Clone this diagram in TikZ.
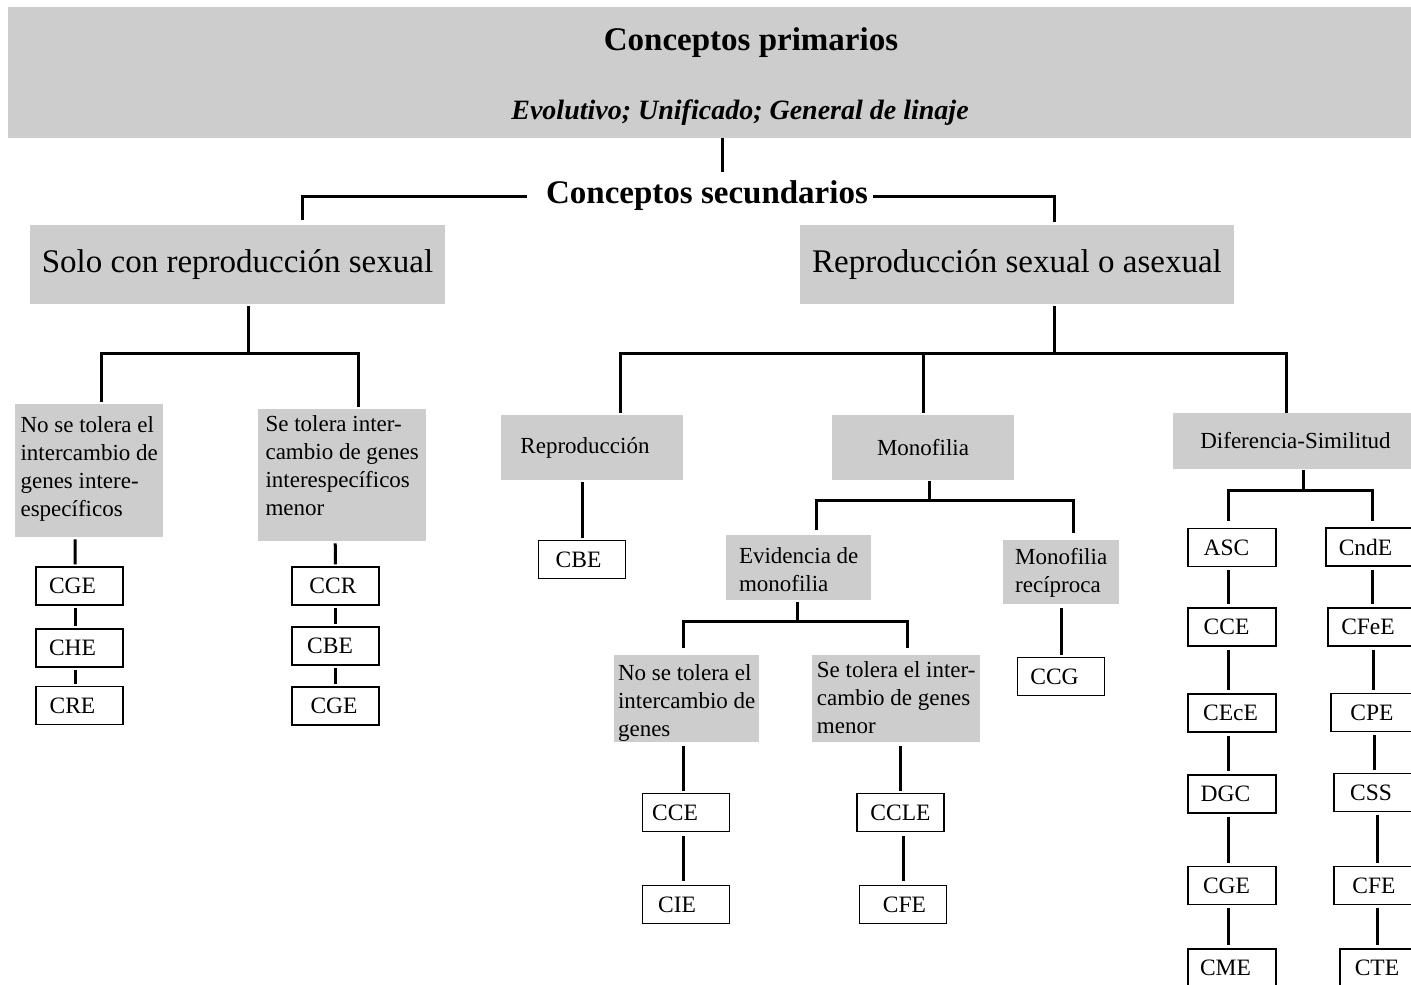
\documentclass[tikz,border=0pt]{standalone}
\usepackage{fontspec}
\setmainfont{Liberation Serif}
\definecolor{boxgray}{RGB}{205,205,205}
\newcommand{\szsmall}{\fontsize{23}{28}\selectfont}
\newcommand{\szlab}{\fontsize{23.5}{28}\selectfont}
\newcommand{\szbig}{\fontsize{33}{38}\selectfont}
\newcommand{\szsub}{\fontsize{28}{33}\selectfont}
\newcommand{\rbx}[2]{\raisebox{#1}[\height][\depth]{\begin{tabular}{@{}l@{}}#2\end{tabular}}}
\begin{document}
\begin{tikzpicture}[x=1pt,y=-1pt,
  gbox/.style={fill=boxgray, inner sep=0pt, font=\szsmall},
  gml/.style={gbox, anchor=north west},
  wbox/.style={draw=black, line width=1.2pt, fill=white, minimum width=87pt, minimum height=38pt, inner sep=0pt, font=\szlab},
  tx/.style={execute at begin node={\hspace*{#1}}},
  conn/.style={line width=3pt},
  wl/.style={line width=3pt, shorten <=2pt, shorten >=2pt},
]
\useasboundingbox[fill=white] (0,0) rectangle (1411,985);

% primary
\node[gbox, minimum width=1404pt, minimum height=131pt] (prim) at (710,72.5) {};
\node[font=\szbig\bfseries] (primt) at (751,43) {Conceptos primarios};
\node[font=\szsub\bfseries\itshape] (prims) at (740,113) {Evolutivo; Unificado; General de linaje};
\node[font=\szbig\bfseries, inner xsep=5pt, inner ysep=1pt] (sec) at (707,196) {Conceptos secundarios};
\coordinate (c0) at (722,172);
\draw[conn] (prim.south -| c0) -- (c0);

% level 1
\node[gbox, minimum width=415pt, minimum height=79pt, font=\szbig] (solo) at (237.5,264.5) {Solo con reproducción sexual};
\node[gbox, minimum width=434pt, minimum height=79pt, font=\szbig] (repro) at (1017,264.5) {Reproducción sexual o asexual};
\draw[conn] ([xshift=-14pt]sec.west) -| ([xshift=64.5pt,yshift=5pt]solo.north);
\draw[conn] (sec.east) -| ([xshift=37pt,yshift=3pt]repro.north);

% left branch
\node[gml, minimum width=148pt, minimum height=133pt] (nst) at (15,404) {\rbx{2pt}{No se tolera el\\intercambio de\\genes intere-\\específicos}};
\node[gml, minimum width=168pt, minimum height=132pt] (st) at (258,409) {\rbx{7pt}{Se tolera inter-\\cambio de genes\\interespecíficos\\menor}};
\coordinate (jl) at (248,353);
\draw[conn] ([yshift=-2pt]solo.south -| jl) -- (jl);
\draw[conn] ([xshift=12pt,yshift=2pt]nst.north) |- (jl) -| ([xshift=16pt,yshift=2pt]st.north);

\node[wbox, tx=-14pt] (cge1) at (79.5,586) {CGE};
\node[wbox, tx=-14pt] (che) at (79.5,648) {CHE};
\node[wbox, tx=-14pt] (cre) at (79.5,705.5) {CRE};
\node[wbox, tx=-5pt] (ccr) at (335.5,586) {CCR};
\node[wbox, tx=-11pt] (cbe1) at (335.5,646) {CBE};
\node[wbox, tx=-3pt] (cge2) at (335.5,706) {CGE};
\draw[wl] ([xshift=-14pt]nst.south) -- ([xshift=-4.5pt]cge1.north);
\draw[wl] ([xshift=-4.5pt]cge1.south) -- ([xshift=-4.5pt]che.north);
\draw[wl] ([xshift=-4.5pt]che.south) -- ([xshift=-4.5pt]cre.north);
\draw[wl] ([xshift=-7pt]st.south) -- (ccr.north);
\draw[wl] (ccr.south) -- (cbe1.north);
\draw[wl] (cbe1.south) -- (cge2.north);

% right branch
\node[gbox, minimum width=182pt, minimum height=65pt, tx=-14pt] (reprod) at (592,447.5) {Reproducción};
\node[gbox, minimum width=182pt, minimum height=65pt] (mono) at (923,447.5) {Monofilia};
\node[gbox, minimum width=245pt, minimum height=56pt] (difsim) at (1295.5,441) {Diferencia-Similitud};
\coordinate (jr) at (1054,353);
\draw[conn] ([yshift=-2pt]repro.south -| jr) -- (jr);
\draw[conn] ([xshift=28pt,yshift=2pt]reprod.north) |- (jr) -| ([xshift=-9.5pt]difsim.north);
\draw[conn] ([yshift=2pt]mono.north) -- (mono.north |- jr);

% reproduccion
\node[wbox, tx=-7pt] (cbe2) at (582,559.5) {CBE};
\draw[wl] (reprod.south -| cbe2) -- (cbe2.north);

% monofilia
\node[gml, minimum width=145pt, minimum height=65pt] (evid) at (726,535) {\rbx{-4pt}{Evidencia de\\monofilia}};
\node[gml, minimum width=116pt, minimum height=64pt] (monrec) at (1003,540) {\rbx{-1pt}{Monofilia\\recíproca}};
\coordinate (jm) at (929,500);
\draw[conn] ([yshift=-1pt]mono.south -| jm) -- (jm);
\draw[conn] ([xshift=17.5pt,yshift=5pt]evid.north) |- (jm) -| ([xshift=12pt,yshift=7pt]monrec.north);

\node[wbox, tx=-13pt] (ccg) at (1061,676.5) {CCG};
\draw[wl, shorten <=4pt] (monrec.south -| ccg) -- (ccg.north);

\node[gml, minimum width=145pt, minimum height=87pt] (nose2) at (614,655) {\rbx{-4pt}{No se tolera el\\intercambio de\\genes}};
\node[gml, minimum width=168pt, minimum height=87pt] (se2) at (812,655) {\rbx{-1pt}{Se tolera el inter-\\cambio de genes\\menor}};
\coordinate (je) at (797,621);
\draw[conn] ([yshift=-2pt]evid.south -| je) -- (je);
\draw[conn] ([xshift=-3.5pt,yshift=7pt]nose2.north) |- (je) -| ([xshift=11pt,yshift=7pt]se2.north);

\node[wbox, tx=-22pt] (cce1) at (686,812.5) {CCE};
\node[wbox, tx=-18pt] (cie) at (686,904.5) {CIE};
\node[wbox] (ccle) at (900.5,812.5) {CCLE};
\node[wbox, tx=3pt] (cfe1) at (903,904.5) {CFE};
\draw[wl, shorten <=4pt] ([xshift=-3pt]cce1.north |- nose2.south) -- ([xshift=-3pt]cce1.north);
\draw[wl, shorten <=4pt, shorten >=4pt] ([xshift=-3pt]cce1.south) -- ([xshift=-3pt]cie.north);
\draw[wl, shorten <=4pt] (ccle.north |- se2.south) -- (ccle.north);
\draw[wl, shorten <=4pt, shorten >=4pt] (ccle.south -| cfe1) -- (cfe1.north);

% diferencia-similitud
\node[wbox, minimum width=88pt, tx=-11pt] (asc) at (1232,547.5) {ASC};
\node[wbox, minimum width=88pt, tx=-11pt] (cce2) at (1232,627) {CCE};
\node[wbox, minimum width=88pt, tx=-3pt] (cece) at (1232,713) {CEcE};
\node[wbox, minimum width=88pt, tx=-13pt] (dgc) at (1232,794) {DGC};
\node[wbox, minimum width=88pt, tx=-11pt] (cge3) at (1232,885.5) {CGE};
\node[wbox, minimum width=88pt, tx=-13pt] (cme) at (1232,968) {CME};
\node[wbox, tx=-8pt] (cnde) at (1369.5,547) {CndE};
\node[wbox, tx=-7pt] (cfee) at (1371.5,627) {CFeE};
\node[wbox, tx=-5pt] (cpe) at (1374.5,712.5) {CPE};
\node[wbox, tx=-13pt] (css) at (1377.5,792.5) {CSS};
\node[wbox, tx=-7pt] (cfe2) at (1377.5,885.5) {CFE};
\node[wbox, tx=-13pt] (cte) at (1383.5,968) {CTE};
\coordinate (jd) at (1303,490);
\draw[conn] ([yshift=-1pt]difsim.south -| jd) -- (jd);
\draw[conn] ([xshift=-4pt,yshift=7pt]asc.north) |- (jd) -| ([xshift=2.5pt,yshift=6pt]cnde.north);
\foreach \a/\b in {asc/cce2, cce2/cece, cece/dgc, dgc/cge3, cge3/cme}
  \draw[wl, shorten <=3pt, shorten >=3pt] ([xshift=-4pt]\a.south) -- ([xshift=-4pt]\b.north);
\draw[wl, shorten <=3pt, shorten >=3pt] ([xshift=2.5pt]cnde.south) -- ([xshift=0.5pt]cfee.north);
\draw[wl, shorten <=3pt, shorten >=3pt] ([xshift=1.5pt]cfee.south) -- ([xshift=-1.5pt]cpe.north);
\draw[wl, shorten <=3pt, shorten >=3pt] ([xshift=-0.5pt]cpe.south) -- ([xshift=-3.5pt]css.north);
\draw[wl, shorten <=3pt, shorten >=3pt] ([xshift=-0.5pt]css.south) -- ([xshift=-0.5pt]cfe2.north);
\draw[wl, shorten <=3pt, shorten >=3pt] ([xshift=-0.5pt]cfe2.south) -- ([xshift=-6.5pt]cte.north);
\end{tikzpicture}
\end{document}
